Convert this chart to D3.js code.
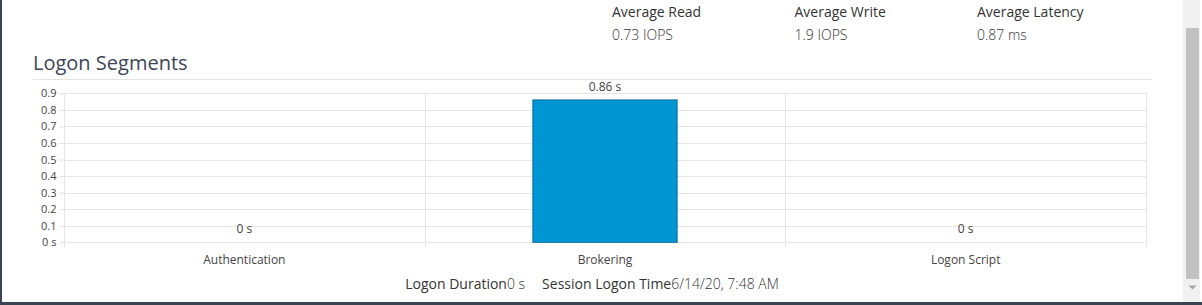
<!DOCTYPE html>
<html>
<head>
<meta charset="utf-8">
<script src="https://cdn.jsdelivr.net/npm/d3@7"></script>
<style>
  html, body { margin: 0; padding: 0; background: #fff; overflow: hidden; }
  svg { display: block; font-family: "Open Sans", "Noto Sans", sans-serif; }
</style>
</head>
<body>
<div id="chart"></div>
<script>
// chart data
const categories = ['Authentication', 'Brokering', 'Logon Script'];
const durations = [0, 0.86, 0];
const yTicks = [0, 0.1, 0.2, 0.3, 0.4, 0.5, 0.6, 0.7, 0.8, 0.9];

const statLabels = ['Average Read', 'Average Write', 'Average Latency'];
const statValues = ['0.73 IOPS', '1.9 IOPS', '0.87 ms'];

const footerLabels = ['Logon Duration', 'Session Logon Time'];
const footerValues = ['0 s', '6/14/20, 7:48 AM'];

const W = 1202, H = 305;
const plot = {left: 64, right: 1146, top: 93.3, bottom: 242.3};

const svg = d3.select('#chart').append('svg')
  .attr('width', W)
  .attr('height', H);

// frame: left border + bottom band
svg.append('rect').attr('x', 0).attr('y', 0).attr('width', 2).attr('height', H).attr('fill', '#3b4450');
svg.append('rect').attr('x', 0).attr('y', 302).attr('width', W).attr('height', 3).attr('fill', '#3b4450');

// scrollbar
svg.append('rect').attr('x', 1183).attr('y', 0).attr('width', 17).attr('height', 302).attr('fill', '#f1f1f1');
svg.append('rect').attr('x', 1186).attr('y', 28).attr('width', 13).attr('height', 251).attr('fill', '#c1c1c1');
svg.append('path').attr('d', 'M1188.5,285.5 L1196.5,285.5 L1192.5,289.5 Z').attr('fill', '#a3a3a3');

// top stats
const statX = d3.scalePoint().domain(statLabels).range([612, 977]);
svg.selectAll('.stat-label')
  .data(statLabels)
  .enter().append('text')
    .attr('class', 'stat-label')
    .attr('x', d => statX(d))
    .attr('y', 17)
    .style('font-size', '14px')
    .style('font-weight', '500')
    .style('fill', '#333')
    .text(d => d);

svg.selectAll('.stat-value')
  .data(statValues)
  .enter().append('text')
    .attr('class', 'stat-value')
    .attr('x', (d, i) => statX(statLabels[i]))
    .attr('y', 40)
    .style('font-size', '14px')
    .style('font-weight', '300')
    .style('fill', '#333')
    .text(d => d);

// title
svg.append('text')
  .attr('x', 33)
  .attr('y', 70)
  .style('font-size', '20px')
  .style('font-weight', '400')
  .style('fill', '#3b4656')
  .text('Logon Segments');

svg.append('line')
  .attr('x1', 33).attr('x2', 1152)
  .attr('y1', 79.5).attr('y2', 79.5)
  .attr('stroke', '#e3e3e3');

const xScale = d3.scaleBand()
  .domain(categories)
  .range([plot.left, plot.right])
  .padding(0);

const yScale = d3.scaleLinear()
  .domain([0, 0.9])
  .range([plot.bottom, plot.top]);

const g = svg.append('g');

// horizontal grid
g.selectAll('.grid-h')
  .data(yTicks)
  .enter().append('line')
    .attr('class', 'grid-h')
    .attr('x1', plot.left).attr('x2', plot.right)
    .attr('y1', d => Math.round(yScale(d)) + 0.5)
    .attr('y2', d => Math.round(yScale(d)) + 0.5)
    .attr('stroke', '#e6e6e6');

// vertical band separators
const edges = categories.map(c => xScale(c)).concat([plot.right]);
g.selectAll('.grid-v')
  .data(edges)
  .enter().append('line')
    .attr('class', 'grid-v')
    .attr('x1', d => Math.round(d) + 0.5).attr('x2', d => Math.round(d) + 0.5)
    .attr('y1', plot.top).attr('y2', plot.bottom + 5)
    .attr('stroke', '#e6e6e6');

// y axis
const yAxis = d3.axisLeft(yScale)
  .tickValues(yTicks)
  .tickSize(4)
  .tickPadding(3)
  .tickFormat(d => d === 0 ? '0 s' : d3.format('.1f')(d));

const yAxisG = g.append('g')
  .attr('transform', `translate(${plot.left - 0.5},0)`)
  .call(yAxis);
yAxisG.select('.domain').remove();
yAxisG.selectAll('line').attr('stroke', '#dcdcdc');
yAxisG.selectAll('text')
  .style('font-size', '11px')
  .style('font-family', '"Open Sans", sans-serif')
  .style('fill', '#444');

// x axis labels
const xAxis = d3.axisBottom(xScale).tickSize(0).tickPadding(0);
const xAxisG = g.append('g')
  .attr('transform', `translate(0,${plot.bottom + 13})`)
  .call(xAxis);
xAxisG.select('.domain').remove();
xAxisG.selectAll('text')
  .style('font-size', '12px')
  .style('font-family', '"Open Sans", sans-serif')
  .style('fill', '#444');

// bars
const barW = xScale.bandwidth() * 0.4;
g.selectAll('.bar')
  .data(durations)
  .enter().append('rect')
    .attr('class', 'bar')
    .attr('x', (d, i) => xScale(categories[i]) + (xScale.bandwidth() - barW) / 2)
    .attr('y', d => yScale(d))
    .attr('width', barW)
    .attr('height', d => plot.bottom - yScale(d))
    .attr('fill', '#0096d4')
    .attr('stroke', '#0b6e9c')
    .attr('stroke-width', d => d > 0 ? 1 : 0);

// bar labels
g.selectAll('.bar-label')
  .data(durations)
  .enter().append('text')
    .attr('class', 'bar-label')
    .attr('x', (d, i) => xScale(categories[i]) + xScale.bandwidth() / 2)
    .attr('y', d => yScale(d) - 9)
    .style('font-size', '12px')
    .style('text-anchor', 'middle')
    .style('fill', '#444')
    .text(d => `${d} s`);

// footer
const footer = svg.append('text')
  .attr('x', 592)
  .attr('y', 289)
  .style('font-size', '14px')
  .style('text-anchor', 'middle')
  .style('fill', '#333');
footerLabels.forEach((lab, i) => {
  footer.append('tspan').style('font-weight', '500').attr('dx', i ? 17 : 0).text(lab);
  footer.append('tspan').style('font-weight', '300').text(footerValues[i]);
});
</script>
</body>
</html>
